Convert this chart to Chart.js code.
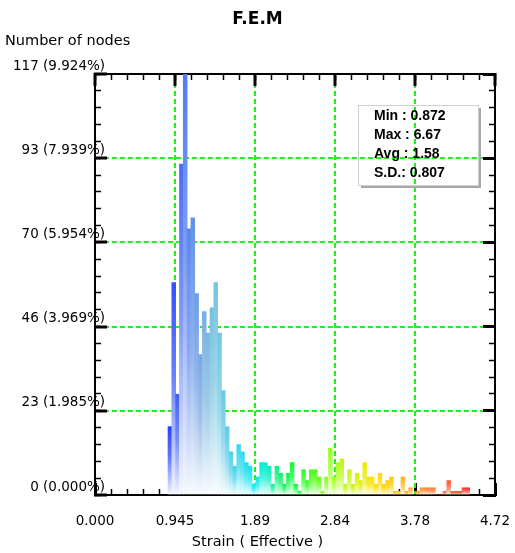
<!DOCTYPE html>
<html>
<head>
<meta charset="utf-8">
<script src="https://cdn.jsdelivr.net/npm/chart.js@4/dist/chart.umd.min.js"></script>
<style>
html,body{margin:0;padding:0;background:#ffffff;}
canvas{display:block;}
</style>
</head>
<body>
<canvas id="c" width="515" height="553"></canvas>
<script>
// ---- data ----
const binMin = 0.862;      // left edge of first histogram bin
const binWidth = 0.0451;   // width of each bin (strain units)
const counts = [19,59,28,92,117,74,77,56,39,51,45,52,59,45,29,19,12,8,14,12,9,8,3,5,9,9,8,3,8,6,3,6,9,3,1,7,4,7,7,5,1,5,13,5,9,10,3,7,3,6,4,9,5,5,3,6,3,4,5,1,1,5,1,2,0,1,2,2,2,2,0,0,1,4,1,1,1,2,2];
const xMax = 4.7235;
const yMax = 117;
const xTickLabels = ['0.000','0.945','1.89','2.84','3.78','4.72'];
const yTickLabels = ['0 (0.000%)','23 (1.985%)','46 (3.969%)','70 (5.954%)','93 (7.939%)','117 (9.924%)'];
const statLines = ['Min : 0.872','Max : 6.67','Avg : 1.58','S.D.: 0.807'];
const titleText = 'F.E.M';
const yTitleText = 'Number of nodes';
const xTitleText = 'Strain ( Effective )';

// ---- styling ----
const colorStops = [
  [0.88,'#2040ff'],[0.95,'#3858f8'],[1.05,'#5078f0'],[1.15,'#6090e8'],[1.25,'#78a8e0'],
  [1.40,'#78c4e0'],[1.55,'#60cce8'],[1.72,'#30d8f0'],[1.90,'#00e8f0'],[2.05,'#00f0c0'],
  [2.20,'#10f060'],[2.35,'#00ff30'],[2.60,'#50ff10'],[2.80,'#a0ff20'],[3.10,'#d8f000'],
  [3.30,'#ffe000'],[3.50,'#ffc800'],[3.70,'#ffa820'],[3.95,'#ff8030'],[4.20,'#ff5030'],[4.45,'#ff2020']
];
function hexRgb(h){return [parseInt(h.slice(1,3),16),parseInt(h.slice(3,5),16),parseInt(h.slice(5,7),16)];}
function mixWhite(rgb, t){return 'rgb(' + rgb.map(x => Math.round(x + (255 - x) * t)).join(',') + ')';}
function rgbAt(v){
  if (v <= colorStops[0][0]) return hexRgb(colorStops[0][1]);
  for (let k = 1; k < colorStops.length; k++) {
    if (v <= colorStops[k][0]) {
      const [v0,c0] = colorStops[k-1], [v1,c1] = colorStops[k];
      const t = (v - v0) / (v1 - v0);
      const a = hexRgb(c0), b = hexRgb(c1);
      return a.map((x,j)=>Math.round(x + (b[j]-x)*t));
    }
  }
  return hexRgb(colorStops[colorStops.length-1][1]);
}
const GRID_GREEN = '#22ee22';
const NONE = 'rgba(0,0,0,0)';
const FONT = '"DejaVu Sans", sans-serif';

const binCenters = counts.map((_, i) => binMin + (i + 0.5) * binWidth);
const majorX = xTickLabels.map((_, i) => i * xMax / (xTickLabels.length - 1));
const minorX = Array.from({length: 26}, (_, i) => i * xMax / 25);
const majorY = yTickLabels.map((_, i) => i * yMax / (yTickLabels.length - 1));
const minorY = Array.from({length: 26}, (_, i) => i * yMax / 25);

function setTicks(vals){ return (s) => { s.ticks = vals.map(v => ({value: v})); }; }
const edgeTransparent = (n) => (c) => (c.index === 0 || c.index === n - 1) ? NONE : GRID_GREEN;

const overlayPlugin = {
  id: 'overlay',
  afterDraw(chart) {
    const ctx = chart.ctx, a = chart.chartArea;
    const x0 = a.right - 137, y0 = a.top + 31, w = 120, h = 80;
    ctx.save();
    ctx.fillStyle = '#a8a8a8';
    ctx.fillRect(x0 + w, y0 + 3, 3, h);
    ctx.fillRect(x0 + 3, y0 + h, w, 3);
    ctx.strokeStyle = '#d0d0d0'; ctx.lineWidth = 1;
    ctx.strokeRect(x0 + 0.5, y0 + 0.5, w, h);
    ctx.fillStyle = '#000';
    ctx.font = 'bold 14px "Liberation Sans", Arial, sans-serif';
    ctx.textBaseline = 'middle'; ctx.textAlign = 'left';
    statLines.forEach((t, i) => ctx.fillText(t, x0 + 16, y0 + 11 + i * 19));
    ctx.font = '14.5px ' + FONT;
    ctx.fillText(yTitleText, 5, 41);
    ctx.restore();
  }
};

// axes that only carry short inward minor tick marks (zero size)
const tickAxis = (pos, vals, max, axis, len, width) => ({
  type: 'linear', axis: axis, position: pos, min: 0, max: max, weight: 0, offset: false,
  afterBuildTicks: setTicks(vals),
  afterFit: (s) => { if (axis === 'x') s.height = 0; else s.width = 0; },
  ticks: {display: false, autoSkip: false},
  grid: {display: true, drawOnChartArea: false, drawTicks: true, color: NONE, tickLength: -len, tickColor: '#000', tickWidth: width, offset: false},
  border: {display: false}
});

new Chart(document.getElementById('c'), {
  type: 'bar',
  data: {
    datasets: [{
      label: 'Number of nodes',
      xAxisID: 'x', yAxisID: 'y',
      data: counts.map((c, i) => ({x: binCenters[i], y: c})),
      barPercentage: 1, categoryPercentage: 1, borderWidth: 0,
      backgroundColor(c) {
        const chart = c.chart;
        if (c.type !== 'data' || !chart.chartArea) return '#8888ff';
        const i = c.dataIndex, rgb = rgbAt(binCenters[i]);
        const ys = chart.scales.y;
        const top = ys.getPixelForValue(counts[i]), bot = ys.getPixelForValue(0);
        if (bot - top < 1) return mixWhite(rgb, 0);
        const g = chart.ctx.createLinearGradient(0, top, 0, bot);
        g.addColorStop(0, mixWhite(rgb, 0));
        g.addColorStop(0.45, mixWhite(rgb, 0.28));
        g.addColorStop(0.8, mixWhite(rgb, 0.7));
        g.addColorStop(1, mixWhite(rgb, 0.95));
        return g;
      }
    }]
  },
  options: {
    responsive: false, animation: false, devicePixelRatio: 1,
    layout: {padding: 0},
    plugins: {
      legend: {display: false}, tooltip: {enabled: false},
      title: {display: true, text: titleText, color: '#000', font: {family: FONT, size: 17, weight: 'bold'}, padding: {top: 9, bottom: 44.6}},
      subtitle: {display: true, position: 'bottom', text: xTitleText, color: '#000', font: {family: FONT, size: 14.5}, padding: {top: 2, bottom: 2}}
    },
    scales: {
      x: {
        type: 'linear', axis: 'x', position: 'bottom', min: 0, max: xMax, weight: 1, offset: false,
        afterBuildTicks: setTicks(majorX),
        afterFit: (s) => { s.height = 36.6; },
        ticks: {autoSkip: false, maxRotation: 0, padding: 0, color: '#000', font: {family: FONT, size: 13.5, lineHeight: '77px'}, callback: (v, i) => xTickLabels[i]},
        grid: {display: true, drawOnChartArea: false, color: NONE, lineWidth: 1, drawTicks: true, tickLength: -12, tickColor: '#000', tickWidth: 3, offset: false},
        border: {display: true, color: '#000', width: 2}
      },
      xMinor: tickAxis('bottom', minorX, xMax, 'x', 6, 1.5),
      xTop: {
        type: 'linear', axis: 'x', position: 'top', min: 0, max: xMax, weight: 1, offset: false,
        afterBuildTicks: setTicks(majorX),
        afterFit: (s) => { s.height = 0; },
        ticks: {display: false, autoSkip: false},
        grid: {display: true, drawOnChartArea: true, drawTicks: true, color: edgeTransparent(majorX.length), lineWidth: 2, tickLength: -12, tickColor: '#000', tickWidth: 3, offset: false},
        border: {display: true, color: '#000', width: 2, dash: [5, 3]}
      },
      xTopMinor: tickAxis('top', minorX, xMax, 'x', 6, 1.5),
      y: {
        type: 'linear', axis: 'y', position: 'left', min: 0, max: yMax, weight: 1,
        afterBuildTicks: setTicks(majorY),
        afterFit: (s) => { s.width = 95; },
        ticks: {autoSkip: false, mirror: true, crossAlign: 'far', padding: -82, labelOffset: -8, color: '#000', font: {family: FONT, size: 13.5}, callback: (v, i) => yTickLabels[i]},
        grid: {color: edgeTransparent(majorY.length), lineWidth: 2, drawTicks: true, tickLength: -12, tickColor: '#000', tickWidth: 3},
        border: {display: true, color: '#000', width: 2, dash: [5, 3]}
      },
      yMinor: tickAxis('left', minorY, yMax, 'y', 6, 1.5),
      yRight: {
        type: 'linear', axis: 'y', position: 'right', min: 0, max: yMax, weight: 1,
        afterBuildTicks: setTicks(majorY),
        afterFit: (s) => { s.width = 20; },
        ticks: {display: false, autoSkip: false},
        grid: {display: true, drawOnChartArea: false, drawTicks: true, color: NONE, tickLength: -12, tickColor: '#000', tickWidth: 3},
        border: {display: true, color: '#000', width: 2}
      },
      yRightMinor: tickAxis('right', minorY, yMax, 'y', 6, 1.5)
    }
  },
  plugins: [overlayPlugin]
});
</script>
</body>
</html>
